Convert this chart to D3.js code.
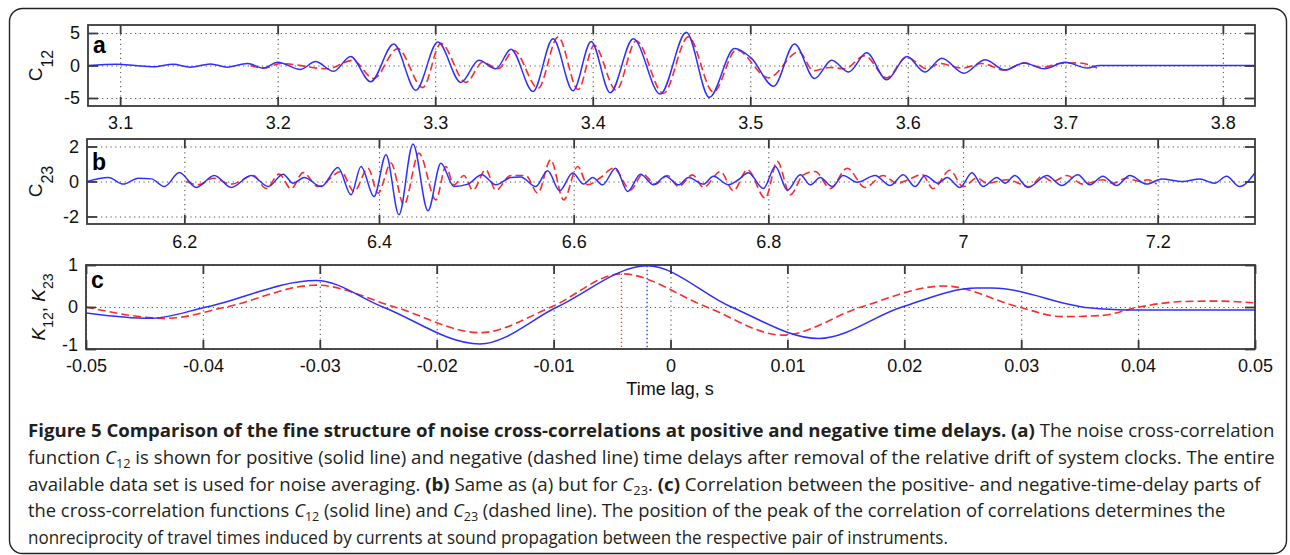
<!DOCTYPE html>
<html>
<head>
<meta charset="utf-8">
<script src="https://cdn.jsdelivr.net/npm/d3@7"></script>
<style>
  body { margin: 0; background: #fff; }
  svg { display: block; }
</style>
</head>
<body>
<svg id="fig" width="1290" height="555"></svg>
<script>
// ---- data ----
const aTicksX = [3.1, 3.2, 3.3, 3.4, 3.5, 3.6, 3.7, 3.8];
const aTicksY = [-5, 0, 5];
// C12, positive delays (solid)
const aPos = [[3.0796,0],[3.0981,0.2],[3.1095,0],[3.121,-0.2],[3.1337,0.2],[3.1445,-0.25],[3.1573,0.25],[3.1681,-0.25],[3.1808,0.3],[3.191,-0.4],[3.2,0.5],[3.2145,-0.6],[3.224,0.6],[3.2355,-0.9],[3.2463,1.4],[3.259,-2.5],[3.2737,3.3],[3.2877,-3.8],[3.3017,3.6],[3.3163,-2.6],[3.3277,0.8],[3.3385,-0.5],[3.3481,2.5],[3.3621,-4.0],[3.3748,4.1],[3.3875,-3.9],[3.399,3.7],[3.4111,-4.2],[3.4257,4.1],[3.4429,-4.4],[3.4594,5.1],[3.474,-4.9],[3.49,2.6],[3.5008,1.1],[3.5148,-3.2],[3.5281,3.3],[3.5408,-2.0],[3.5517,0.8],[3.5625,-1.0],[3.5739,1.95],[3.5866,-2.2],[3.5994,1.4],[3.6108,-1.0],[3.6216,1.1],[3.6356,-1.2],[3.649,0.9],[3.6617,-0.7],[3.6738,0.4],[3.6865,-0.5],[3.6999,0.5],[3.7139,-0.4],[3.7215,0],[3.7635,0],[3.82,0]];
// C12, negative delays (dashed)
const aNeg = [[3.1827,0],[3.191,-0.4],[3.2018,0.3],[3.2317,-0.5],[3.2476,0.8],[3.2609,-2.0],[3.2762,2.6],[3.2921,-3.4],[3.3036,3.4],[3.3195,-2.6],[3.3303,0.5],[3.3398,-0.5],[3.35,2.3],[3.3653,-3.5],[3.378,4.4],[3.3907,-3.7],[3.4009,3.1],[3.4149,-3.8],[3.4276,3.8],[3.4448,-4.3],[3.4607,4.4],[3.4766,-4.1],[3.4912,2.4],[3.5116,-1.9],[3.5307,2.1],[3.5402,-0.8],[3.5504,-0.3],[3.5599,-0.5],[3.5726,1.5],[3.5866,-1.9],[3.5994,1.3],[3.6121,-0.5],[3.6204,0.3],[3.6344,-0.4],[3.6471,0.3],[3.6611,-0.7],[3.6738,0.4],[3.6852,-0.3],[3.6961,0.3],[3.7088,0.4],[3.7202,-0.4]];

const bTicksX = [6.2, 6.4, 6.6, 6.8, 7, 7.2];
const bTicksY = [-2, 0, 2];
// C23, positive delays (solid)
const bPos = [[6.1,0],[6.122,0.23],[6.1374,-0.15],[6.1528,0.19],[6.1662,0.15],[6.1795,-0.29],[6.1949,0.51],[6.2123,-0.34],[6.2308,0.34],[6.2482,-0.34],[6.2687,0.34],[6.2862,-0.29],[6.3015,0.42],[6.3118,-0.1],[6.3231,0.23],[6.3405,-0.29],[6.3579,0.8],[6.3713,-0.76],[6.3815,0.86],[6.3949,-0.86],[6.4072,1.53],[6.4205,-1.9],[6.4349,2.15],[6.4503,-1.67],[6.4636,1.05],[6.4769,-0.29],[6.4913,-0.15],[6.5056,0.38],[6.52,-0.19],[6.5354,0.23],[6.5456,0.26],[6.561,-0.29],[6.5733,0.61],[6.5856,-0.53],[6.599,0.48],[6.6103,-0.15],[6.6195,0.23],[6.6297,-0.19],[6.6431,0.76],[6.6554,-0.57],[6.6687,0.42],[6.6821,-0.19],[6.6944,0.3],[6.7077,-0.19],[6.7179,0.23],[6.7333,-0.15],[6.7436,0.3],[6.759,-0.19],[6.7692,0.1],[6.7795,0.5],[6.7949,-0.4],[6.8072,0.86],[6.8195,-0.5],[6.8328,0.38],[6.8431,-0.19],[6.8533,0.23],[6.8656,-0.29],[6.8769,0.34],[6.8913,-0.05],[6.9097,0.34],[6.9251,-0.23],[6.9385,0.38],[6.9508,-0.29],[6.961,0.34],[6.9744,-0.1],[6.9836,0.23],[6.9969,-0.34],[7.0092,0.5],[7.0205,-0.29],[7.0349,0.23],[7.0431,-0.1],[7.0533,0.34],[7.0667,-0.34],[7.0862,0.34],[7.1015,-0.23],[7.1179,0.38],[7.1303,-0.19],[7.1436,0.3],[7.1579,-0.23],[7.1713,0.34],[7.1887,-0.15],[7.2041,0.15],[7.2256,0],[7.2431,0.15],[7.2585,-0.1],[7.2708,0.3],[7.2841,-0.29],[7.3,0.5]];
// C23, negative delays (dashed)
const bNeg = [[6.202,0],[6.2144,-0.19],[6.2297,0.19],[6.2482,-0.15],[6.2708,0.34],[6.2841,-0.4],[6.2974,0.42],[6.3097,-0.42],[6.322,0.51],[6.3374,-0.29],[6.361,0.57],[6.3744,-0.57],[6.3887,0.76],[6.399,-0.67],[6.4123,1.05],[6.4256,-1.33],[6.441,1.62],[6.4585,-1.05],[6.4687,0.86],[6.4769,-0.2],[6.4872,0.34],[6.4964,-0.5],[6.5097,0.67],[6.52,-0.5],[6.5354,0.34],[6.5508,0.34],[6.5631,-0.67],[6.5764,1.24],[6.5897,-1.05],[6.6041,0.86],[6.6144,-0.19],[6.6277,0.23],[6.641,0.76],[6.6585,-0.48],[6.6708,0.42],[6.6841,-0.15],[6.6964,0.34],[6.7077,-0.29],[6.7221,0.38],[6.7333,-0.34],[6.7508,0.57],[6.7641,-0.53],[6.7785,0.67],[6.7969,-0.95],[6.8092,1.15],[6.8226,-0.76],[6.8359,0.38],[6.8482,0.57],[6.8636,-0.4],[6.881,0.76],[6.8995,-0.34],[6.9179,0.34],[6.9323,-0.1],[6.9436,0.1],[6.9579,0.4],[6.9692,-0.4],[6.9867,0.64],[7.0,-0.3],[7.0144,0.2],[7.0246,-0.1],[7.0451,0.1],[7.0687,-0.3],[7.081,0.3],[7.0923,0],[7.1067,0.34],[7.1231,-0.15],[7.1436,0.1],[7.1538,-0.1],[7.1682,0.2],[7.1815,0],[7.1897,0.1],[7.199,-0.15]];

const cTicksX = [-0.05, -0.04, -0.03, -0.02, -0.01, 0, 0.01, 0.02, 0.03, 0.04, 0.05];
const cTicksY = [-1, 0, 1];
// K12 (solid) and K23 (dashed)
const cK12 = [[-0.05,-0.14],[-0.0445,-0.27],[-0.0397,0],[-0.0303,0.63],[-0.0246,0],[-0.0163,-0.88],[-0.0097,0],[-0.002,0.98],[0.0052,0],[0.0127,-0.75],[0.0198,0],[0.0262,0.45],[0.0275,0.45],[0.0358,-0.02],[0.039,-0.07],[0.05,-0.07]];
const cK23 = [[-0.05,0],[-0.0431,-0.27],[-0.038,0],[-0.0303,0.52],[-0.0236,0],[-0.0163,-0.61],[-0.0102,0],[-0.0042,0.79],[0.0031,0],[0.0096,-0.67],[0.0163,0],[0.0234,0.5],[0.0298,0],[0.0335,-0.23],[0.0369,-0.2],[0.0401,0],[0.0438,0.13],[0.0467,0.14],[0.05,0.1]];

// ---- drawing ----
const svg = d3.select("#fig");
const FONT = "'Liberation Sans', Arial, sans-serif";
const BLUE = "#2f2fff", RED = "#ff2b2b", AX = "#3a3a3a";

svg.append("rect")
  .attr("x", 9.5).attr("y", 8.5).attr("width", 1277).attr("height", 545).attr("rx", 13)
  .attr("fill", "none").attr("stroke", "#222").attr("stroke-width", 1.4);

let clipId = 0;

function panel(o) {
  const x = d3.scaleLinear().domain(o.xd).range([o.left, o.right]);
  const y = d3.scaleLinear().domain(o.yd).range([o.bottom, o.top]);
  const g = svg.append("g");
  const h = o.bottom - o.top, w = o.right - o.left;
  const fmt = d => String(d);

  // dotted grid
  g.append("g").attr("transform", `translate(0,${o.bottom})`)
    .call(d3.axisBottom(x).tickValues(o.xt).tickSize(-h).tickFormat(""))
    .call(s => { s.select(".domain").remove();
      s.selectAll("line").attr("stroke", "#555").attr("stroke-width", 1.1).attr("stroke-dasharray", "1.2,3.5"); });
  g.append("g").attr("transform", `translate(${o.left},0)`)
    .call(d3.axisLeft(y).tickValues(o.yt).tickSize(-w).tickFormat(""))
    .call(s => { s.select(".domain").remove();
      s.selectAll("line").attr("stroke", "#555").attr("stroke-width", 1.1).attr("stroke-dasharray", "1.2,3.5"); });

  // curves
  const id = "clip" + (clipId++);
  g.append("clipPath").attr("id", id).append("rect")
    .attr("x", o.left).attr("y", o.top).attr("width", w).attr("height", h);
  const line = d3.line().x(d => x(d[0])).y(d => y(d[1])).curve(d3.curveMonotoneX);
  const cg = g.append("g").attr("clip-path", `url(#${id})`);

  if (o.peaks) {
    [[o.neg, RED], [o.pos, BLUE]].forEach(([s, c]) => {
      const p = d3.greatest(s, d => d[1]);
      cg.append("line").attr("x1", x(p[0])).attr("x2", x(p[0]))
        .attr("y1", y(p[1])).attr("y2", o.bottom)
        .attr("stroke", c).attr("stroke-width", 1.3).attr("stroke-dasharray", "1.3,2.7");
    });
  }
  cg.append("path").datum(o.neg).attr("d", line)
    .attr("fill", "none").attr("stroke", RED).attr("stroke-width", 1.6).attr("stroke-dasharray", "8,4");
  cg.append("path").datum(o.pos).attr("d", line)
    .attr("fill", "none").attr("stroke", BLUE).attr("stroke-width", 1.5);

  // box
  g.append("rect").attr("x", o.left).attr("y", o.top).attr("width", w).attr("height", h)
    .attr("fill", "none").attr("stroke", AX).attr("stroke-width", 1.8);

  const styleAxis = s => {
    s.select(".domain").remove();
    s.selectAll("line").attr("stroke", AX).attr("stroke-width", 1.8);
    s.selectAll("text").attr("font-family", FONT).attr("font-size", 18).attr("fill", "#111");
  };
  // ticks on all four sides, pointing in
  g.append("g").attr("transform", `translate(0,${o.bottom})`)
    .call(d3.axisBottom(x).tickValues(o.xt).tickSizeInner(-9).tickSizeOuter(0).tickPadding(o.xpad).tickFormat(fmt))
    .call(styleAxis);
  g.append("g").attr("transform", `translate(0,${o.top})`)
    .call(d3.axisTop(x).tickValues(o.xt).tickSizeInner(-9).tickSizeOuter(0).tickFormat(""))
    .call(styleAxis);
  g.append("g").attr("transform", `translate(${o.left},0)`)
    .call(d3.axisLeft(y).tickValues(o.yt).tickSizeInner(-10).tickSizeOuter(0).tickPadding(8).tickFormat(fmt))
    .call(styleAxis)
    .call(s => s.selectAll(".tick text").filter(d => d === o.yd[0]).attr("y", -(o.lowLift || 0)));
  g.append("g").attr("transform", `translate(${o.right},0)`)
    .call(d3.axisRight(y).tickValues(o.yt).tickSizeInner(-10).tickSizeOuter(0).tickFormat(""))
    .call(styleAxis);

  // panel letter
  g.append("text").attr("x", o.left + 5).attr("y", o.letterY)
    .attr("font-family", FONT).attr("font-weight", "bold").attr("font-size", 23)
    .attr("fill", "#000").text(o.letter);

  // y label
  const yl = g.append("text")
    .attr("transform", `translate(${o.ylx},${(o.top + o.bottom) / 2}) rotate(-90)`)
    .attr("text-anchor", "middle").attr("font-family", FONT).attr("font-size", 19).attr("fill", "#111");
  o.ylabel.forEach(([t, kind]) => {
    if (kind === "sub") {
      yl.append("tspan").attr("font-size", o.subSize).attr("dy", o.subShift).text(t);
    } else {
      const ts = yl.append("tspan").text(t);
      if (kind === "it") ts.attr("font-style", "italic");
      if (kind === "back") ts.attr("dy", -o.subShift);
    }
  });
  return { x, y };
}

panel({ left: 88, right: 1255, top: 25, bottom: 106, xd: [3.0796, 3.8204], yd: [-6.23, 6.23],
  xt: aTicksX, yt: aTicksY, pos: aPos, neg: aNeg, xpad: 10, letter: "a", letterY: 53,
  ylx: 42, ylabel: [["C", "n"], ["12", "sub"]], subSize: 16, subShift: 11 });

panel({ left: 87, right: 1255, top: 139, bottom: 224, xd: [6.1, 7.3], yd: [-2.43, 2.43],
  xt: bTicksX, yt: bTicksY, pos: bPos, neg: bNeg, xpad: 11, letter: "b", letterY: 170,
  ylx: 42, ylabel: [["C", "n"], ["23", "sub"]], subSize: 16, subShift: 11 });

panel({ left: 86, right: 1255, top: 265, bottom: 349, xd: [-0.05, 0.05], yd: [-1, 1],
  xt: cTicksX, yt: cTicksY, pos: cK12, neg: cK23, xpad: 10, letter: "c", letterY: 288, peaks: true,
  lowLift: 4,
  ylx: 45, ylabel: [["K", "it"], ["12", "sub"], [", ", "back"], ["K", "it"], ["23", "sub"]], subSize: 14, subShift: 8 });

svg.append("text").attr("x", 670).attr("y", 395).attr("text-anchor", "middle")
  .attr("font-family", FONT).attr("font-size", 18).attr("fill", "#111").text("Time lag, s");

// ---- caption ----
const captionLines = [
  [["b", "Figure 5 Comparison of the fine structure of noise cross-correlations at positive and negative time delays. (a)"], ["n", " The noise cross-correlation"]],
  [["n", "function "], ["i", "C"], ["s", "12"], ["n", " is shown for positive (solid line) and negative (dashed line) time delays after removal of the relative drift of system clocks. The entire"]],
  [["n", "available data set is used for noise averaging. "], ["b", "(b)"], ["n", " Same as (a) but for "], ["i", "C"], ["s", "23"], ["n", ". "], ["b", "(c)"], ["n", " Correlation between the positive- and negative-time-delay parts of"]],
  [["n", "the cross-correlation functions "], ["i", "C"], ["s", "12"], ["n", " (solid line) and "], ["i", "C"], ["s", "23"], ["n", " (dashed line). The position of the peak of the correlation of correlations determines the"]],
  [["n", "nonreciprocity of travel times induced by currents at sound propagation between the respective pair of instruments."]]
];
const captionRight = [1275, 1275, 1262, 1226, 948];
const capX = 28, capY0 = 437, capStep = 26.8;

captionLines.forEach((parts, i) => {
  const g = svg.append("g");
  const t = g.append("text").attr("x", 0).attr("y", 0)
    .attr("font-family", "'Open Sans', 'Noto Sans', sans-serif").attr("font-size", 17.5).attr("fill", "#231f20");
  let down = false;
  parts.forEach(([k, s]) => {
    const ts = t.append("tspan").text(s);
    if (k === "b") ts.attr("font-weight", "bold");
    if (k === "i") ts.attr("font-style", "italic");
    if (k === "s") { ts.attr("font-size", 12).attr("dy", 4); down = true; }
    else if (down) { ts.attr("dy", -4); down = false; }
  });
  const wdt = t.node().getComputedTextLength();
  const sx = (captionRight[i] - capX) / wdt;
  g.attr("transform", `translate(${capX},${capY0 + i * capStep}) scale(${sx},1)`);
});
</script>
</body>
</html>
